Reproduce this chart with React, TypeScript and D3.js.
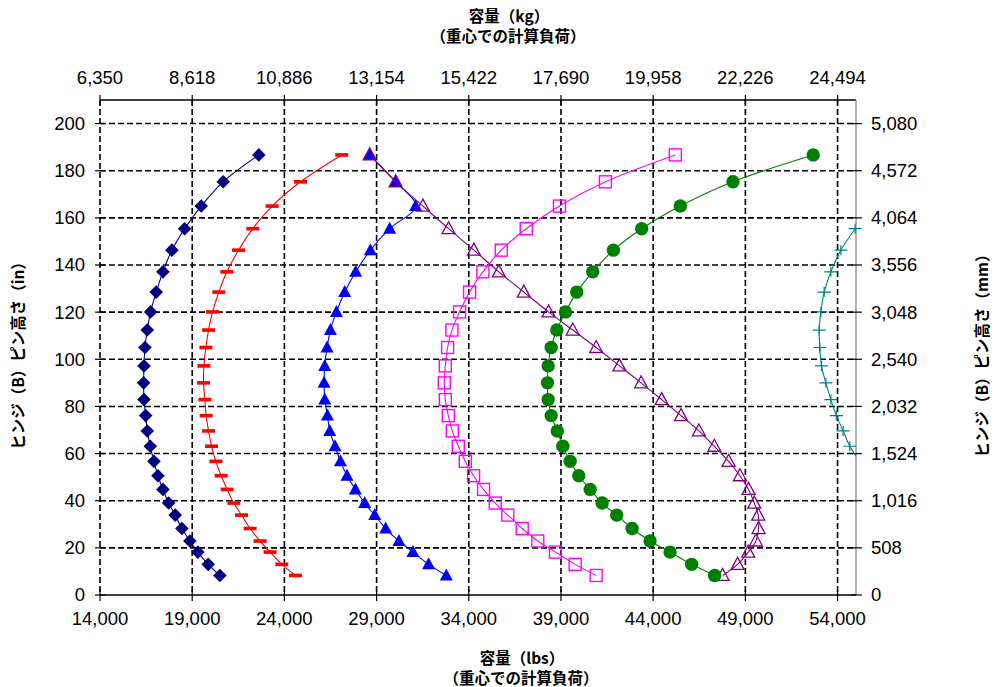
import { useRef, useEffect } from "react";
import * as d3 from "d3";

// pin heights (in), shared by every curve, bottom to top
const heightsIn = [
  8.3, 13, 18.2, 22.9, 28.2, 33.9, 39, 44.8, 50.6, 56.7, 63.1, 69.6, 76.1,
  82.9, 90, 97.2, 105, 112.4, 120.1, 128.5, 137.1, 146.3, 155.4, 165, 175.3, 186.7,
];

// capacity (lbs) per curve, same order as heightsIn
const navyLbs = [
  20501, 19867, 19309, 18876, 18442, 18079, 17722, 17413, 17142, 16925, 16725, 16563, 16476,
  16384, 16367, 16384, 16438, 16563, 16746, 17050, 17413, 17900, 18588, 19488, 20680, 22613,
];
const redLbs = [
  24601, 23859, 23225, 22684, 22142, 21676, 21259, 20896, 20571, 20284, 20051, 19888, 19759,
  19688, 19617, 19634, 19742, 19888, 20105, 20446, 20880, 21513, 22288, 23334, 24872, 27109,
];
const blueLbs = [
  32781, 31822, 30972, 30213, 29493, 28897, 28355, 27852, 27397, 27039, 26747, 26459, 26335,
  26189, 26151, 26189, 26313, 26497, 26822, 27272, 27868, 28664, 29710, 31118, 30035, 28626,
];
const purpleLbs = [
  47765, 48578, 49157, 49574, 49715, 49699, 49482, 49173, 48707, 48090, 47315, 46480, 45511,
  44461, 43345, 42169, 40907, 39640, 38323, 36985, 35630, 34276, 32906, 31513, 30035, 28626,
];
const magentaLbs = [
  40907, 39769, 38702, 37743, 36898, 36118, 35436, 34802, 34260, 33811, 33431, 33106, 32890,
  32727, 32673, 32727, 32852, 33085, 33502, 34043, 34764, 35761, 37115, 38919, 41411, 45202,
];
const greenLbs = [
  47332, 46086, 44916, 43832, 42857, 42023, 41232, 40582, 39964, 39498, 39098, 38800, 38469,
  38306, 38269, 38306, 38469, 38773, 39244, 39856, 40723, 41844, 43377, 45473, 48328, 52678,
];
// teal curve only covers the middle heights (runs off the right edge)
const tealHeightsIn = heightsIn.slice(9, 23);
const tealLbs = [
  55200, 54666, 54303, 53940, 53636, 53366, 53128, 53039, 53003, 53095, 53274, 53636, 54178, 54953,
];

const lbsTicks = [14000, 19000, 24000, 29000, 34000, 39000, 44000, 49000, 54000];
const kgTickLabels = ["6,350", "8,618", "10,886", "13,154", "15,422", "17,690", "19,958", "22,226", "24,494"];
const inTicks = [0, 20, 40, 60, 80, 100, 120, 140, 160, 180, 200];
const mmTickLabels = ["0", "508", "1,016", "1,524", "2,032", "2,540", "3,048", "3,556", "4,064", "4,572", "5,080"];

const LATIN = "'Liberation Sans', Arial, sans-serif";
const CJK = "'Noto Sans CJK JP', 'Liberation Sans', sans-serif";

const App = () => {
  const svgRef = useRef<SVGSVGElement>(null);
  const width = 995;
  const height = 687;

  useEffect(() => {
    const svg = d3.select(svgRef.current);
    svg.selectAll("*").remove();

    const x = d3.scaleLinear().domain([14000, 55000]).range([100, 856]);
    const y = d3.scaleLinear().domain([0, 210]).range([595, 100]);

    svg.append("rect").attr("width", width).attr("height", height).attr("fill", "#fff");

    svg.append("defs").append("clipPath").attr("id", "plot-clip")
      .append("rect")
      .attr("x", x(14000)).attr("y", y(210))
      .attr("width", x(55000) - x(14000)).attr("height", y(0) - y(210));

    // dashed grid
    const grid = svg.append("g")
      .attr("stroke", "#000")
      .attr("stroke-width", 1.6)
      .attr("stroke-dasharray", "6,3");
    grid.selectAll(".vg").data(lbsTicks).enter().append("line")
      .attr("x1", d => x(d)).attr("x2", d => x(d))
      .attr("y1", y(210)).attr("y2", y(0));
    grid.selectAll(".hg").data(inTicks.filter(d => d > 0)).enter().append("line")
      .attr("x1", x(14000)).attr("x2", x(55000))
      .attr("y1", d => y(d)).attr("y2", d => y(d));

    // axis lines
    const axes = svg.append("g");
    axes.append("line").attr("x1", x(14000)).attr("x2", x(55000)).attr("y1", y(0)).attr("y2", y(0))
      .attr("stroke", "#000").attr("stroke-width", 1.5);
    axes.append("line").attr("x1", x(14000)).attr("x2", x(55000)).attr("y1", y(210)).attr("y2", y(210))
      .attr("stroke", "#000").attr("stroke-width", 1.5);
    axes.append("line").attr("x1", x(55000)).attr("x2", x(55000)).attr("y1", y(210)).attr("y2", y(0))
      .attr("stroke", "#808080").attr("stroke-width", 1.2);

    // cross ticks
    const ticks = axes.append("g").attr("stroke", "#000").attr("stroke-width", 1.2);
    lbsTicks.forEach(t => {
      ticks.append("line").attr("x1", x(t)).attr("x2", x(t)).attr("y1", y(0) - 5).attr("y2", y(0) + 6);
      ticks.append("line").attr("x1", x(t)).attr("x2", x(t)).attr("y1", y(210) - 5).attr("y2", y(210) + 5);
    });
    inTicks.forEach(t => {
      ticks.append("line").attr("x1", x(14000) - 5).attr("x2", x(14000) + 5).attr("y1", y(t)).attr("y2", y(t));
      ticks.append("line").attr("x1", x(55000) - 5).attr("x2", x(55000) + 6).attr("y1", y(t)).attr("y2", y(t));
    });

    // tick labels
    const lab = svg.append("g").attr("font-family", LATIN).attr("font-size", 18.5).attr("fill", "#000");
    lab.selectAll(".bl").data(lbsTicks).enter().append("text")
      .attr("x", d => x(d)).attr("y", 625).attr("text-anchor", "middle")
      .text(d => d3.format(",")(d));
    lab.selectAll(".tl").data(lbsTicks).enter().append("text")
      .attr("x", d => x(d)).attr("y", 84).attr("text-anchor", "middle")
      .text((_, i) => kgTickLabels[i]);
    lab.selectAll(".ll").data(inTicks).enter().append("text")
      .attr("x", 85).attr("y", d => y(d)).attr("dy", "0.35em").attr("text-anchor", "end")
      .text(d => String(d));
    lab.selectAll(".rl").data(inTicks).enter().append("text")
      .attr("x", 871).attr("y", d => y(d)).attr("dy", "0.35em").attr("text-anchor", "start")
      .text((_, i) => mmTickLabels[i]);

    // axis titles
    const titles = svg.append("g").attr("font-family", CJK).attr("font-size", 15.5)
      .attr("font-weight", "bold").attr("text-anchor", "middle");
    titles.append("text").attr("x", 509).attr("y", 22).text("容量（kg）");
    titles.append("text").attr("x", 508).attr("y", 42).text("（重心での計算負荷）");
    titles.append("text").attr("x", 522).attr("y", 664).text("容量（lbs）");
    titles.append("text").attr("x", 521).attr("y", 684).text("（重心での計算負荷）");
    titles.append("text").attr("transform", "translate(19,352) rotate(-90)")
      .attr("dy", "0.35em").text("ヒンジ（B）ピン高さ（in）");
    titles.append("text").attr("transform", "translate(983,352) rotate(-90)")
      .attr("dy", "0.35em").text("ヒンジ（B）ピン高さ（mm）");

    // series
    type Pt = { lbs: number; h: number };
    const zipPts = (lbs: number[], hs: number[]): Pt[] => lbs.map((v, i) => ({ lbs: v, h: hs[i] }));
    const series = [
      { pts: zipPts(navyLbs, heightsIn), color: "#000080", marker: "diamond" },
      { pts: zipPts(redLbs, heightsIn), color: "#FF0000", marker: "dash" },
      { pts: zipPts(blueLbs, heightsIn), color: "#0000FF", marker: "triangle" },
      { pts: zipPts(purpleLbs, heightsIn), color: "#800080", marker: "openTriangle" },
      { pts: zipPts(magentaLbs, heightsIn), color: "#FF00FF", marker: "square" },
      { pts: zipPts(greenLbs, heightsIn), color: "#008000", marker: "circle" },
      { pts: zipPts(tealLbs, tealHeightsIn), color: "#008080", marker: "plus" },
    ];

    const line = d3.line<Pt>()
      .x(d => x(d.lbs))
      .y(d => y(d.h))
      .curve(d3.curveCatmullRom.alpha(0.5));

    series.forEach(s => {
      const g = svg.append("g");
      g.append("path")
        .attr("d", line(s.pts))
        .attr("fill", "none")
        .attr("stroke", s.color)
        .attr("stroke-width", 1.1)
        .attr("clip-path", "url(#plot-clip)");

      const visible = s.pts.filter(d => d.lbs <= 55000);
      const m = g.selectAll(".m").data(visible).enter().append("g")
        .attr("transform", d => `translate(${x(d.lbs)},${y(d.h)})`);

      if (s.marker === "diamond") {
        m.append("path").attr("d", "M0,-6.8L6.8,0L0,6.8L-6.8,0Z").attr("fill", s.color);
      } else if (s.marker === "dash") {
        m.append("rect").attr("x", -6.5).attr("y", -1.8).attr("width", 13).attr("height", 3.6).attr("fill", s.color);
      } else if (s.marker === "triangle") {
        m.append("path").attr("d", "M0,-7L6.5,5L-6.5,5Z").attr("fill", s.color);
      } else if (s.marker === "openTriangle") {
        m.append("path").attr("d", "M0,-7L6.5,5L-6.5,5Z").attr("fill", "none")
          .attr("stroke", s.color).attr("stroke-width", 1.3);
      } else if (s.marker === "square") {
        m.append("rect").attr("x", -6).attr("y", -6).attr("width", 12).attr("height", 12)
          .attr("fill", "none").attr("stroke", s.color).attr("stroke-width", 1.4);
      } else if (s.marker === "circle") {
        m.append("circle").attr("r", 6.7).attr("fill", s.color);
      } else if (s.marker === "plus") {
        m.append("path").attr("d", "M-6.5,0H6.5M0,-5V5").attr("stroke", s.color).attr("stroke-width", 1.2);
      }
    });
  }, []);

  return (
    <svg
      ref={svgRef}
      width={width}
      height={height}
      style={{ position: "absolute", left: 0, top: 0, display: "block" }}
    />
  );
};

export default App;
